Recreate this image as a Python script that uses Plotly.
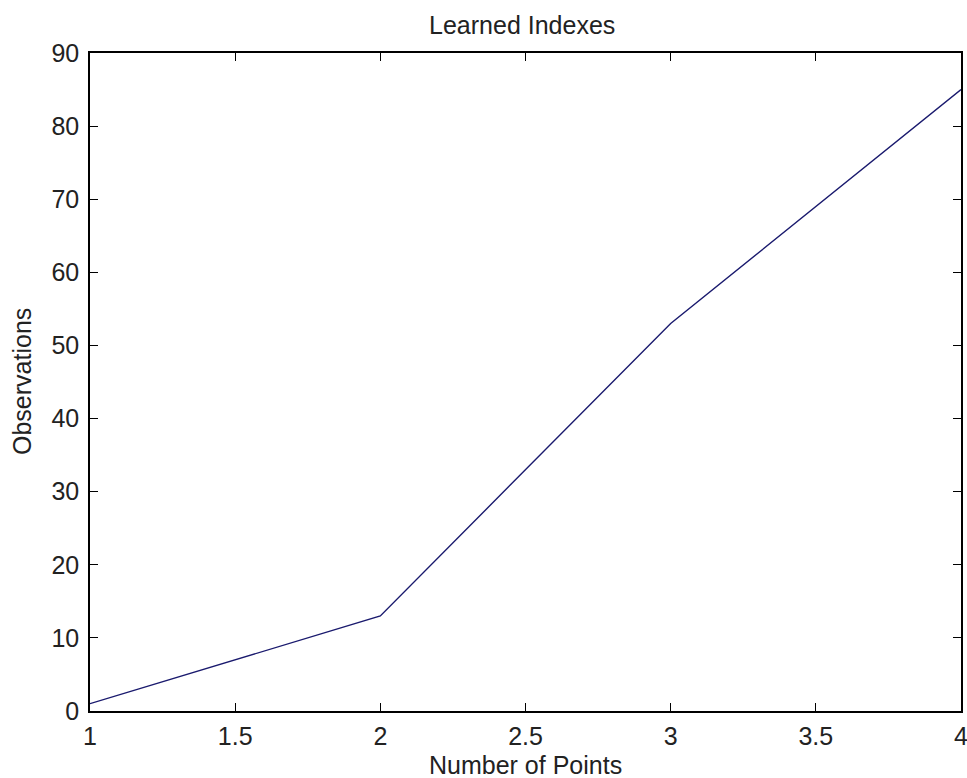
import plotly.graph_objects as go

x_points = [1, 2, 3, 4]
observations = [1, 13, 53, 85]
x_ticks = [1, 1.5, 2, 2.5, 3, 3.5, 4]
y_ticks = [0, 10, 20, 30, 40, 50, 60, 70, 80, 90]

FONT = "Liberation Sans, Arial"
FS = 25
fig = go.Figure()
fig.add_trace(go.Scatter(x=x_points, y=observations, mode="lines",
                         line=dict(color="#1a1a6e", width=1.4), showlegend=False))

axis_common = dict(showgrid=False, zeroline=False, showline=True, linecolor="black",
                   linewidth=1.5, mirror="ticks", ticks="inside", ticklen=8,
                   tickcolor="black", automargin=False, ticklabeloverflow="allow",
                   tickfont=dict(family=FONT, size=FS, color="#222"))

fig.update_xaxes(range=[1, 4], tickvals=x_ticks, ticktext=[str(t) for t in x_ticks],
                 ticklabelstandoff=2, **axis_common)
fig.update_yaxes(range=[0, 90], tickvals=y_ticks, ticklabelstandoff=4, **axis_common)

fig.update_layout(
    width=967, height=778,
    margin=dict(l=90, r=6, t=53, b=67),
    paper_bgcolor="white", plot_bgcolor="white",
    title=dict(text="Learned Indexes", x=0.54, xanchor="center",
               y=1 - 25 / 778, yref="container", yanchor="middle",
               font=dict(family=FONT, size=FS, color="#222")),
    annotations=[
        dict(text="Number of Points", xref="paper", yref="paper", x=0.5, y=0.0, yshift=-54,
             xanchor="center", yanchor="middle", showarrow=False,
             font=dict(family=FONT, size=FS, color="#222")),
        dict(text="Observations", xref="paper", yref="paper", x=0.0, xshift=-68, y=0.5,
             xanchor="center", yanchor="middle", textangle=-90, showarrow=False,
             font=dict(family=FONT, size=FS, color="#222")),
    ],
)

fig.write_html("out.html", config={"displayModeBar": False},
               post_script="document.body.style.margin='0';document.body.style.overflow='hidden';")
